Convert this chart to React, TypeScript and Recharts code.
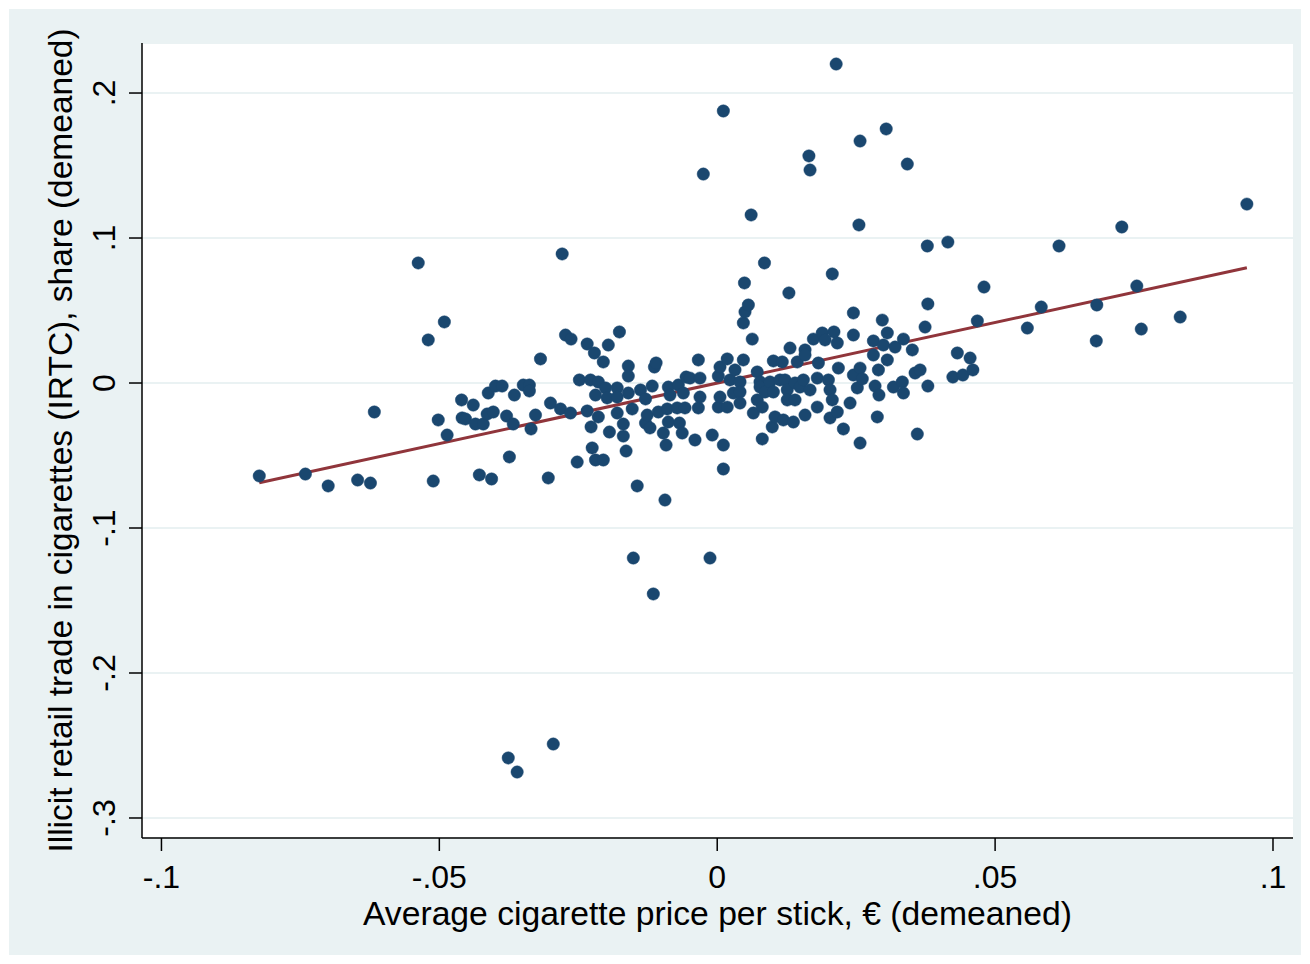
import React from 'react';
import { ComposedChart, Scatter, Line, XAxis, YAxis, CartesianGrid } from 'recharts';

const priceX = [
  -0.0824, -0.0741, -0.0700, -0.0647, -0.0624, -0.0617, -0.0538, -0.0520, -0.0511, -0.0502,
  -0.0491, -0.0486, -0.0460, -0.0459, -0.0453, -0.0439, -0.0435, -0.0428, -0.0421, -0.0414,
  -0.0412, -0.0406, -0.0403, -0.0399, -0.0387, -0.0379, -0.0374, -0.0367, -0.0365, -0.0349,
  -0.0338, -0.0338, -0.0335, -0.0327, -0.0318, -0.0304, -0.0300, -0.0282, -0.0279, -0.0273,
  -0.0263, -0.0264, -0.0252, -0.0248, -0.0234, -0.0234, -0.0228, -0.0227, -0.0225, -0.0221,
  -0.0219, -0.0219, -0.0214, -0.0214, -0.0205, -0.0205, -0.0201, -0.0198, -0.0196, -0.0194,
  -0.0180, -0.0180, -0.0180, -0.0176, -0.0169, -0.0169, -0.0164, -0.0160, -0.0160, -0.0160,
  -0.0153, -0.0151, -0.0144, -0.0138, -0.0129, -0.0129, -0.0126, -0.0121, -0.0117, -0.0115,
  -0.0113, -0.0110, -0.0106, -0.0097, -0.0094, -0.0092, -0.0090, -0.0088, -0.0088, -0.0085,
  -0.0072, -0.0070, -0.0068, -0.0063, -0.0058, -0.0056, -0.0061, -0.0049, -0.0040, -0.0034,
  -0.0034, -0.0031, -0.0031, -0.0025, -0.0013, -0.0009, 0.0002, 0.0002, 0.0005, 0.0005,
  0.0011, 0.0011, 0.0011, 0.0018, 0.0018, 0.0023, 0.0029, 0.0032, 0.0041, 0.0041,
  0.0041, 0.0047, 0.0047, 0.0049, 0.0050, 0.0056, 0.0061, 0.0063, 0.0065, 0.0072,
  0.0072, 0.0077, 0.0077, 0.0081, 0.0081, 0.0085, 0.0086, 0.0095, 0.0099, 0.0101,
  0.0101, 0.0104, 0.0113, 0.0117, 0.0119, 0.0122, 0.0126, 0.0126, 0.0129, 0.0131,
  0.0137, 0.0140, 0.0140, 0.0144, 0.0149, 0.0155, 0.0158, 0.0158, 0.0158, 0.0165,
  0.0167, 0.0167, 0.0173, 0.0180, 0.0180, 0.0182, 0.0189, 0.0194, 0.0200, 0.0203,
  0.0203, 0.0207, 0.0207, 0.0210, 0.0214, 0.0216, 0.0216, 0.0218, 0.0227, 0.0239,
  0.0245, 0.0245, 0.0245, 0.0252, 0.0255, 0.0257, 0.0257, 0.0257, 0.0261, 0.0281,
  0.0281, 0.0284, 0.0288, 0.0290, 0.0291, 0.0297, 0.0299, 0.0304, 0.0306, 0.0306,
  0.0317, 0.0320, 0.0333, 0.0335, 0.0335, 0.0342, 0.0351, 0.0356, 0.0360, 0.0365,
  0.0374, 0.0378, 0.0379, 0.0379, 0.0415, 0.0424, 0.0432, 0.0442, 0.0455, 0.0460,
  0.0468, 0.0480, 0.0558, 0.0583, 0.0615, 0.0682, 0.0683, 0.0728, 0.0755, 0.0763,
  0.0833, 0.0953, -0.0376, -0.0360, -0.0295,
];

const illicitY = [
  -0.0641, -0.0628, -0.0710, -0.0669, -0.0690, -0.0200, 0.0828, 0.0297, -0.0676, -0.0255,
  0.0421, -0.0359, -0.0117, -0.0241, -0.0248, -0.0152, -0.0283, -0.0634, -0.0283, -0.0214,
  -0.0069, -0.0662, -0.0200, -0.0021, -0.0021, -0.0228, -0.0510, -0.0283, -0.0083, -0.0014,
  -0.0014, -0.0055, -0.0317, -0.0221, 0.0166, -0.0655, -0.0138, -0.0179, 0.0890, 0.0331,
  0.0303, -0.0207, -0.0545, 0.0021, 0.0269, -0.0193, 0.0021, -0.0303, -0.0448, 0.0207,
  -0.0083, -0.0531, 0.0007, -0.0234, 0.0145, -0.0531, -0.0034, -0.0103, 0.0262, -0.0338,
  -0.0034, -0.0097, -0.0207, 0.0352, -0.0283, -0.0366, -0.0469, 0.0117, 0.0048, -0.0069,
  -0.0179, -0.1207, -0.0710, -0.0048, -0.0110, -0.0276, -0.0221, -0.0310, -0.0021, -0.1455,
  0.0110, 0.0138, -0.0200, -0.0345, -0.0807, -0.0428, -0.0179, -0.0028, -0.0269, -0.0083,
  -0.0172, -0.0014, -0.0276, -0.0345, -0.0172, 0.0041, -0.0069, 0.0034, -0.0393, 0.0159,
  -0.0172, 0.0034, -0.0097, 0.1441, -0.1207, -0.0359, 0.0048, -0.0166, 0.0110, -0.0097,
  0.1876, -0.0428, -0.0593, 0.0166, -0.0166, 0.0021, -0.0069, 0.0090, 0.0007, -0.0062,
  -0.0138, 0.0414, 0.0159, 0.0690, 0.0490, 0.0538, 0.1159, 0.0303, -0.0207, 0.0076,
  -0.0117, 0.0007, -0.0028, -0.0166, -0.0386, 0.0828, -0.0062, 0.0007, -0.0303, 0.0152,
  -0.0062, -0.0234, 0.0021, 0.0145, -0.0255, 0.0021, -0.0048, -0.0117, 0.0621, 0.0241,
  -0.0269, 0.0000, -0.0117, 0.0145, -0.0028, 0.0021, 0.0228, 0.0193, -0.0221, 0.1566,
  0.1469, -0.0048, 0.0303, 0.0034, -0.0166, 0.0138, 0.0345, 0.0297, 0.0021, -0.0048,
  -0.0241, 0.0752, -0.0117, 0.0352, 0.2200, 0.0276, -0.0200, 0.0103, -0.0317, -0.0138,
  0.0483, 0.0331, 0.0055, -0.0034, 0.1090, 0.1669, 0.0103, -0.0414, 0.0028, 0.0290,
  0.0193, -0.0021, -0.0234, 0.0090, -0.0083, 0.0434, 0.0262, 0.1752, 0.0345, 0.0159,
  -0.0028, 0.0248, 0.0007, 0.0303, -0.0069, 0.1510, 0.0228, 0.0069, -0.0352, 0.0090,
  0.0386, 0.0945, 0.0545, -0.0021, 0.0972, 0.0041, 0.0207, 0.0055, 0.0172, 0.0090,
  0.0428, 0.0662, 0.0379, 0.0524, 0.0945, 0.0290, 0.0538, 0.1076, 0.0669, 0.0372,
  0.0455, 0.1234, -0.2586, -0.2683, -0.2490,
];

const fitX = [-0.0824, 0.0953];
const fitY = [-0.0688, 0.0795];

const xTicks = [-0.1, -0.05, 0, 0.05, 0.1];
const yTicks = [-0.3, -0.2, -0.1, 0, 0.1, 0.2];

const xTitle = 'Average cigarette price per stick, \u20AC (demeaned)';
const yTitle = 'Illicit retail trade in cigarettes (IRTC), share (demeaned)';

const points = priceX.map((x, i) => ({ x, y: illicitY[i] }));
const fitLine = fitX.map((x, i) => ({ x, y: fitY[i] }));

const FONT = '"Liberation Sans", Arial, sans-serif';
const NAVY = '#1A476F';
const MAROON = '#90353B';
const BG = '#EAF2F3';

const stataFmt = (v: number) => {
  if (v === 0) return '0';
  const s = String(Math.round(v * 1000) / 1000);
  return s.replace('0.', '.');
};

const XTick = (props: any) => {
  const { x, payload } = props;
  return (
    <text x={x} y={879} textAnchor="middle" fontSize={32} fontFamily={FONT} fill="#000">
      {stataFmt(payload.value)}
    </text>
  );
};

const YTick = (props: any) => {
  const { y, payload } = props;
  return (
    <text
      x={106}
      y={y}
      transform={`rotate(-90, 106, ${y})`}
      textAnchor="middle"
      fontSize={32}
      fontFamily={FONT}
      fill="#000"
    >
      {stataFmt(payload.value)}
    </text>
  );
};

const Dot = (props: any) => {
  const { cx, cy } = props;
  if (cx == null || cy == null) return <g />;
  return <circle cx={cx} cy={cy} r={6.2} fill={NAVY} stroke={NAVY} strokeWidth={0.5} />;
};

export default function App() {
  return (
    <div style={{ paddingLeft: 1, paddingTop: 1 }}>
      <div style={{ width: 1292, height: 946, background: BG }}>
        <ComposedChart
          width={1292}
          height={946}
          margin={{ top: 34, right: 8, left: 0, bottom: 0 }}
        >
          <CartesianGrid
            horizontal={true}
            vertical={false}
            stroke={BG}
            strokeWidth={2}
            fill="#ffffff"
            fillOpacity={1}
          />
          <XAxis
            type="number"
            dataKey="x"
            domain={[-0.1035, 0.1036]}
            ticks={xTicks}
            allowDataOverflow
            height={117}
            tickSize={13}
            tick={<XTick />}
            axisLine={{ stroke: '#000', strokeWidth: 1.5 }}
            tickLine={{ stroke: '#000', strokeWidth: 1.5 }}
            interval={0}
            label={{
              content: () => (
                <text x={708.5} y={916} textAnchor="middle" fontSize={33.7} fontFamily={FONT} fill="#000">
                  {xTitle}
                </text>
              ),
            }}
          />
          <YAxis
            type="number"
            dataKey="y"
            domain={[-0.3138, 0.2345]}
            ticks={yTicks}
            allowDataOverflow
            width={133}
            tickSize={13}
            tick={<YTick />}
            axisLine={{ stroke: '#000', strokeWidth: 1.5 }}
            tickLine={{ stroke: '#000', strokeWidth: 1.5 }}
            interval={0}
            label={{
              content: () => (
                <text
                  x={63}
                  y={431.5}
                  transform="rotate(-90, 63, 431.5)"
                  textAnchor="middle"
                  fontSize={33.5}
                  fontFamily={FONT}
                  fill="#000"
                >
                  {yTitle}
                </text>
              ),
            }}
          />
          <Scatter data={points} dataKey="y" shape={<Dot />} isAnimationActive={false} />
          <Line
            data={fitLine}
            dataKey="y"
            type="linear"
            stroke={MAROON}
            strokeWidth={3}
            dot={false}
            activeDot={false}
            isAnimationActive={false}
          />
        </ComposedChart>
      </div>
    </div>
  );
}
